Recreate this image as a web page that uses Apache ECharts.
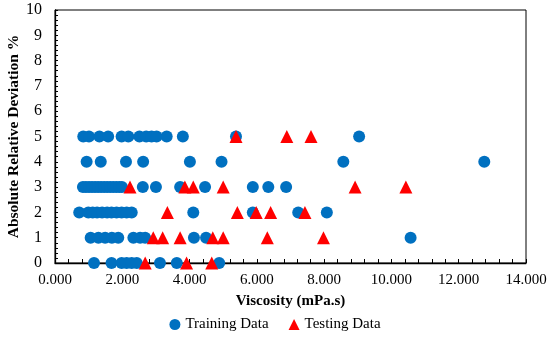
<!DOCTYPE html>
<html>
<head>
<meta charset="utf-8">
<script src="https://cdn.jsdelivr.net/npm/echarts@6/dist/echarts.min.js"></script>
<style>html,body{margin:0;padding:0;background:#fff}#c{width:550px;height:339px}</style>
</head>
<body>
<div id="c"></div>
<script>
// Training Data: viscosity (thousands, as labelled) and absolute relative deviation %
const trainX = [
  0.84, 1.01, 1.32, 1.58, 1.98, 2.18, 2.51, 2.71, 2.87, 3.02, 3.32, 3.80, 5.38, 9.04,
  0.94, 1.36, 2.11, 2.62, 4.01, 4.95, 8.57, 12.76,
  0.83, 0.92, 1.01, 1.10, 1.19, 1.28, 1.37, 1.46, 1.55, 1.64, 1.73, 1.82, 1.91, 1.99, 2.61, 3.00, 3.72, 4.46, 5.88, 6.34, 6.87,
  0.72, 0.99, 1.12, 1.25, 1.40, 1.55, 1.68, 1.83, 1.98, 2.13, 2.28, 4.11, 5.88, 7.23, 8.08,
  1.06, 1.29, 1.49, 1.69, 1.88, 2.33, 2.53, 2.68, 4.13, 4.49, 10.57,
  1.16, 1.68, 1.98, 2.13, 2.28, 2.43, 3.12, 3.62, 4.88
];
const trainY = [
  5, 5, 5, 5, 5, 5, 5, 5, 5, 5, 5, 5, 5, 5,
  4, 4, 4, 4, 4, 4, 4, 4,
  3, 3, 3, 3, 3, 3, 3, 3, 3, 3, 3, 3, 3, 3, 3, 3, 3, 3, 3, 3, 3,
  2, 2, 2, 2, 2, 2, 2, 2, 2, 2, 2, 2, 2, 2, 2,
  1, 1, 1, 1, 1, 1, 1, 1, 1, 1, 1,
  0, 0, 0, 0, 0, 0, 0, 0, 0
];
// Testing Data
const testX = [
  5.38, 6.89, 7.61,
  2.23, 3.86, 4.11, 5.00, 8.92, 10.43,
  3.34, 5.42, 5.98, 6.41, 7.43,
  2.92, 3.20, 3.72, 4.69, 5.00, 6.31, 7.98,
  2.68, 3.91, 4.66
];
const testY = [
  5, 5, 5,
  3, 3, 3, 3, 3, 3,
  2, 2, 2, 2, 2,
  1, 1, 1, 1, 1, 1, 1,
  0, 0, 0
];
const xTicks = [0, 2, 4, 6, 8, 10, 12, 14];
const yTicks = [0, 1, 2, 3, 4, 5, 6, 7, 8, 9, 10];
const seriesNames = ['Training Data', 'Testing Data'];
const xTitle = 'Viscosity (mPa.s)';
const yTitle = 'Absolute Relative Deviation %';

const zip = (xs, ys) => xs.map((x, i) => [x, ys[i]]);
const font = 'Liberation Serif, Times New Roman, serif';

const chart = echarts.init(document.getElementById('c'), null, {renderer: 'canvas'});
chart.setOption({
  animation: false,
  backgroundColor: '#fff',
  grid: {left: 55, right: 24, top: 10, bottom: 76, show: true, borderColor: '#000', borderWidth: 1,
         containLabel: false, outerBoundsMode: 'none'},
  xAxis: {
    type: 'value', min: xTicks[0], max: xTicks[xTicks.length - 1], interval: 2,
    name: xTitle, nameLocation: 'middle', nameGap: 31, nameMoveOverlap: false,
    nameTextStyle: {fontFamily: font, fontSize: 15, fontWeight: 'bold', color: '#000'},
    axisLine: {show: true, lineStyle: {color: '#000', width: 1.3}},
    axisTick: {show: true, inside: true, length: 4, lineStyle: {color: '#000'}},
    minorTick: {show: true, splitNumber: 5, length: 4, lineStyle: {color: '#000'}},
    splitLine: {show: false},
    axisLabel: {fontFamily: font, fontSize: 15, color: '#000', margin: 10,
      formatter: v => v.toFixed(3)}
  },
  yAxis: {
    type: 'value', min: yTicks[0], max: yTicks[yTicks.length - 1], interval: 1,
    name: yTitle, nameLocation: 'middle', nameGap: 33, nameMoveOverlap: false,
    nameTextStyle: {fontFamily: font, fontSize: 15.5, fontWeight: 'bold', color: '#000'},
    axisLine: {show: true, lineStyle: {color: '#000', width: 1.3}},
    axisTick: {show: true, inside: true, length: 3, lineStyle: {color: '#000'}},
    minorTick: {show: true, splitNumber: 5, length: 3, lineStyle: {color: '#000'}},
    splitLine: {show: false},
    axisLabel: {fontFamily: font, fontSize: 16, color: '#000', margin: 13}
  },
  legend: {
    bottom: 2, left: 'center', itemWidth: 11, itemHeight: 11, itemGap: 20,
    textStyle: {fontFamily: font, fontSize: 15, color: '#000'},
    data: [{name: seriesNames[0], icon: 'circle'}, {name: seriesNames[1], icon: 'triangle'}]
  },
  series: [
    {name: seriesNames[0], type: 'scatter', symbol: 'circle', symbolSize: 12,
     itemStyle: {color: '#0070C0', opacity: 1}, data: zip(trainX, trainY), z: 2},
    {name: seriesNames[1], type: 'scatter', symbol: 'triangle', symbolSize: 13,
     itemStyle: {color: '#FF0000', opacity: 1}, data: zip(testX, testY), z: 3}
  ]
});
</script>
</body>
</html>
